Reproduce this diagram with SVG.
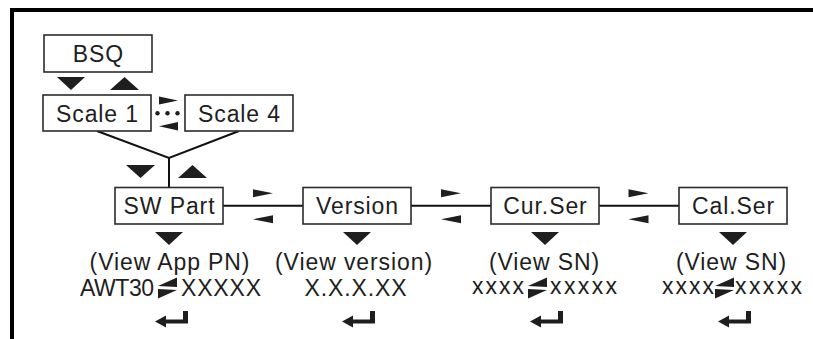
<svg xmlns="http://www.w3.org/2000/svg" width="813" height="339" viewBox="0 0 813 339">
  <style>
    .box { fill: #ffffff; stroke: #2b2b2b; stroke-width: 1.6; }
    .lbl { font-family: "Liberation Sans", Arial, sans-serif; font-size: 23px; letter-spacing: 0.9px; fill: #1e1e1e; text-anchor: middle; }
    .val { font-family: "Liberation Sans", Arial, sans-serif; font-size: 23px; fill: #1e1e1e; }
    .wire { stroke: #111111; stroke-width: 2; fill: none; }
    .tri { fill: #1e1e1e; }
  </style>
  <defs>
    <!-- navigation triangles -->
    <path id="down" d="M0,0 H28 L14,13 Z"/>
    <path id="right" d="M0,0 L20,4 L0,8 Z"/>
    <path id="left" d="M20,0 L0,4 L20,8 Z"/>
    <!-- scroll glyph between value fields -->
    <g id="scroll">
      <path d="M19,0 L19,9.5 L0,8.5 Z"/>
      <path d="M0,21 L0,11.5 L19,12.5 Z"/>
    </g>
    <!-- enter key glyph -->
    <path id="enter" d="M0,10.6 L11,4.6 L11,8.6 L28,8.6 L28,0 L33,0 L33,12.6 L11,12.6 L11,16.6 Z"/>
  </defs>

  <rect width="813" height="339" fill="#ffffff"/>

  <!-- frame -->
  <path d="M12,339 L12,10 L813,10" fill="none" stroke="#000000" stroke-width="4"/>

  <!-- connectors -->
  <g id="connectors">
    <path class="wire" d="M97,131 L169,158 L239,131"/>
    <path class="wire" d="M169,158 V188"/>
    <path class="wire" d="M223,205.7 H303"/>
    <path class="wire" d="M411,205.7 H491"/>
    <path class="wire" d="M599,205.7 H679"/>
    <g class="tri">
      <use href="#down" x="57" y="77"/>
      <path d="M110,90 H139 L124.5,77 Z"/>
      <path d="M159,96.5 L178,100.5 L159,104.5 Z"/>
      <circle cx="157.5" cy="113.3" r="2.2"/>
      <circle cx="167.5" cy="113.3" r="2.2"/>
      <circle cx="177.5" cy="113.3" r="2.2"/>
      <path d="M178,122 L159,126.3 L178,130.6 Z"/>
      <path d="M126,165 H155 L140.5,178 Z"/>
      <path d="M178,178 H207 L192.5,165 Z"/>
      <use href="#right" x="253" y="189.3"/>
      <use href="#left" x="253" y="215.3"/>
      <use href="#right" x="441" y="189.3"/>
      <use href="#left" x="441" y="215.3"/>
      <use href="#right" x="628.5" y="189.3"/>
      <use href="#left" x="628.5" y="215.3"/>
    </g>
  </g>

  <!-- menu nodes -->
  <g id="bsq">
    <rect class="box" x="44" y="35" width="108" height="37"/>
    <text class="lbl" x="98.5" y="62">BSQ</text>
  </g>
  <g id="scale1">
    <rect class="box" x="43" y="95" width="108" height="36"/>
    <text class="lbl" x="97.5" y="121.5">Scale 1</text>
  </g>
  <g id="scale4">
    <rect class="box" x="185" y="95" width="108" height="36"/>
    <text class="lbl" x="239.5" y="121.5">Scale 4</text>
  </g>

  <g id="swpart">
    <rect class="box" x="115" y="187.5" width="108" height="36.5"/>
    <text class="lbl" x="169.5" y="214">SW Part</text>
    <use class="tri" href="#down" x="155" y="232"/>
    <text class="lbl" x="170" y="270">(View App PN)</text>
    <text class="val" x="80" y="296" textLength="74" lengthAdjust="spacing">AWT30</text>
    <use class="tri" href="#scroll" x="158" y="277.5"/>
    <text class="val" x="181" y="296" textLength="80" lengthAdjust="spacing">XXXXX</text>
    <use class="tri" href="#enter" x="155" y="311"/>
  </g>

  <g id="version">
    <rect class="box" x="303" y="187.5" width="108" height="36.5"/>
    <text class="lbl" x="357.5" y="214">Version</text>
    <use class="tri" href="#down" x="343" y="232"/>
    <text class="lbl" x="354" y="270">(View version)</text>
    <text class="lbl" x="356" y="296">X.X.X.XX</text>
    <use class="tri" href="#enter" x="342" y="311"/>
  </g>

  <g id="curser">
    <rect class="box" x="491" y="187.5" width="108" height="36.5"/>
    <text class="lbl" x="545.5" y="214">Cur.Ser</text>
    <use class="tri" href="#down" x="531" y="232"/>
    <text class="lbl" x="544.5" y="270">(View SN)</text>
    <text class="val" x="472" y="294" textLength="52" lengthAdjust="spacing">xxxx</text>
    <use class="tri" href="#scroll" x="528" y="277.5"/>
    <text class="val" x="550" y="294" textLength="67" lengthAdjust="spacing">xxxxx</text>
    <use class="tri" href="#enter" x="530" y="311"/>
  </g>

  <g id="calser">
    <rect class="box" x="679" y="187.5" width="108" height="36.5"/>
    <text class="lbl" x="733.5" y="214">Cal.Ser</text>
    <use class="tri" href="#down" x="719" y="232"/>
    <text class="lbl" x="731.5" y="270">(View SN)</text>
    <text class="val" x="662" y="294" textLength="52" lengthAdjust="spacing">xxxx</text>
    <use class="tri" href="#scroll" x="715" y="277.5"/>
    <text class="val" x="735" y="294" textLength="67" lengthAdjust="spacing">xxxxx</text>
    <use class="tri" href="#enter" x="718" y="311"/>
  </g>
</svg>
